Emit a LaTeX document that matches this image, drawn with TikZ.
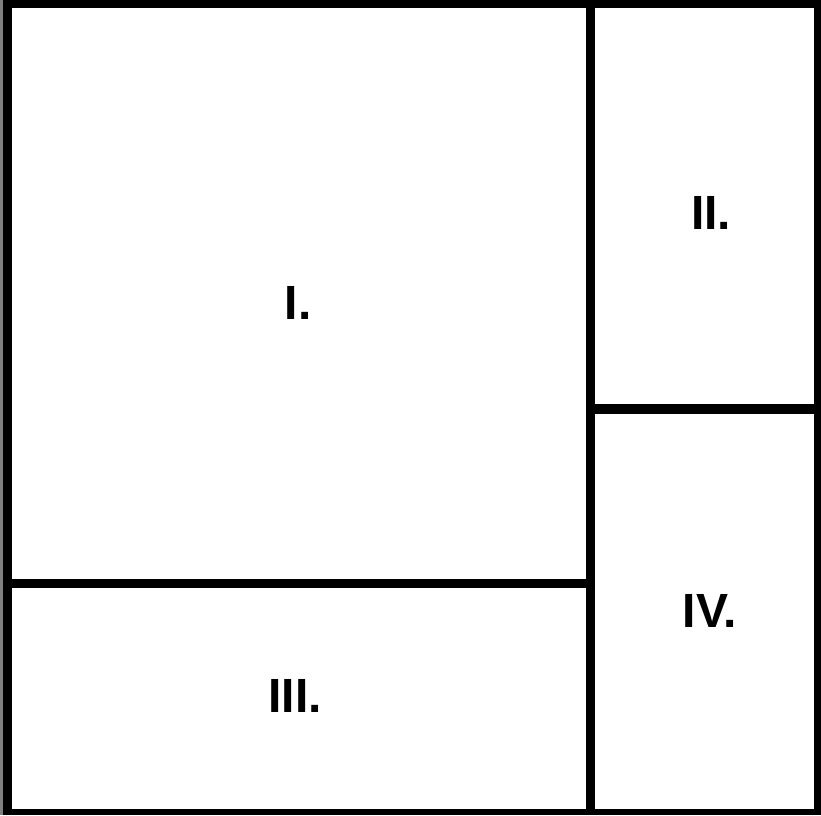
\documentclass[tikz,border=0pt]{standalone}
\usepackage{fontspec}
\setmainfont{Liberation Sans}
\definecolor{edgegray}{RGB}{128,128,128}
\tikzset{
  every node/.style={font=\bfseries\fontsize{48}{48}\selectfont},
  pane/.style={fill=white, draw=none},
  tag/.style={inner sep=0pt, anchor=center}
}

\begin{document}
\begin{tikzpicture}[x=1pt, y=-1pt]
  \useasboundingbox (0,0) rectangle (821,815);
  \fill[black] (0,0) rectangle (821,815);
  \fill[edgegray] (0,0) rectangle (3,815);

  % panes
  \fill[pane] (12,8) rectangle (586,579);
  \fill[pane] (595,8) rectangle (814,404);
  \fill[pane] (12,588) rectangle (586,809);
  \fill[pane] (595,414) rectangle (814,809);

  \node[tag] (one) at (298,303) {I.};
  \node[tag] (two) at (711,213) {II.};
  \node[tag] (three) at (295,696) {III.};
  \node[tag] (four) at (710,611) {IV.};
\end{tikzpicture}
\end{document}
